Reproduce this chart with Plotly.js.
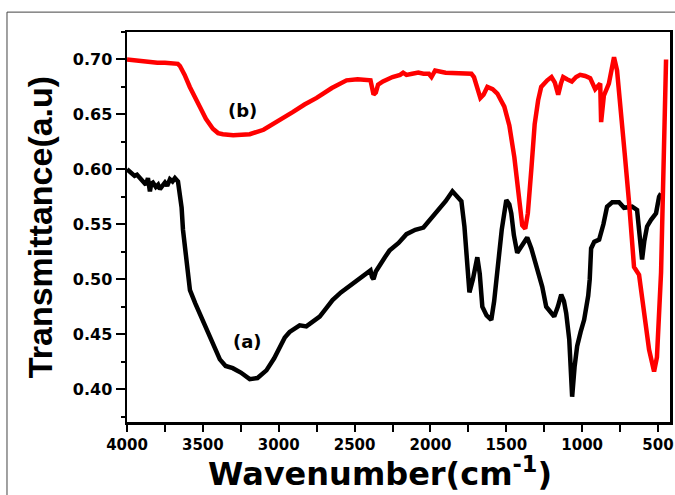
<!DOCTYPE html>
<html>
<head>
<meta charset="utf-8">
<script src="https://cdn.plot.ly/plotly-3.0.1.min.js"></script>
<style>html,body{margin:0;padding:0;background:#fff;}#chart{width:675px;height:495px;}</style>
</head>
<body>
<div id="chart"></div>
<script>
// Sample (a) - black curve
const wavenumberA = [4000, 3975, 3950, 3934, 3900, 3875, 3862, 3849, 3840, 3829, 3810, 3795, 3783, 3765, 3750, 3735, 3717, 3700, 3684, 3664, 3651, 3640, 3631, 3618, 3600, 3585, 3550, 3520, 3490, 3454, 3420, 3388, 3350, 3303, 3250, 3191, 3140, 3081, 3030, 2993, 2960, 2928, 2862, 2818, 2780, 2730, 2690, 2645, 2590, 2533, 2480, 2423, 2395, 2385, 2375, 2360, 2335, 2300, 2270, 2210, 2158, 2100, 2046, 2010, 1980, 1941, 1900, 1855, 1820, 1796, 1776, 1760, 1743, 1720, 1691, 1675, 1658, 1630, 1599, 1580, 1559, 1530, 1500, 1480, 1467, 1450, 1428, 1400, 1362, 1335, 1303, 1263, 1237, 1210, 1184, 1160, 1138, 1120, 1105, 1085, 1066, 1050, 1033, 1010, 987, 960, 950, 941, 920, 888, 860, 836, 802, 757, 724, 671, 638, 625, 612, 605, 590, 572, 546, 513, 493, 480];
const transA = [0.600, 0.597, 0.594, 0.595, 0.590, 0.586, 0.592, 0.580, 0.587, 0.588, 0.584, 0.586, 0.582, 0.586, 0.588, 0.585, 0.591, 0.589, 0.592, 0.589, 0.579, 0.565, 0.545, 0.527, 0.505, 0.490, 0.478, 0.469, 0.459, 0.448, 0.437, 0.427, 0.421, 0.419, 0.415, 0.409, 0.410, 0.417, 0.428, 0.439, 0.447, 0.452, 0.458, 0.457, 0.461, 0.466, 0.473, 0.481, 0.488, 0.494, 0.500, 0.506, 0.508, 0.502, 0.500, 0.507, 0.513, 0.520, 0.526, 0.533, 0.541, 0.545, 0.547, 0.553, 0.558, 0.563, 0.571, 0.580, 0.575, 0.571, 0.548, 0.520, 0.488, 0.500, 0.520, 0.505, 0.475, 0.467, 0.463, 0.480, 0.509, 0.545, 0.572, 0.568, 0.560, 0.540, 0.524, 0.530, 0.538, 0.528, 0.511, 0.493, 0.475, 0.470, 0.466, 0.475, 0.486, 0.480, 0.469, 0.445, 0.393, 0.420, 0.439, 0.452, 0.463, 0.485, 0.500, 0.528, 0.534, 0.536, 0.550, 0.566, 0.570, 0.570, 0.565, 0.566, 0.563, 0.545, 0.518, 0.518, 0.535, 0.548, 0.554, 0.560, 0.575, 0.578];

// Sample (b) - red curve
const wavenumberB = [4000, 3950, 3900, 3850, 3800, 3750, 3700, 3665, 3651, 3620, 3586, 3550, 3520, 3480, 3434, 3400, 3368, 3300, 3191, 3100, 3039, 2960, 2908, 2830, 2750, 2650, 2553, 2480, 2421, 2395, 2375, 2360, 2345, 2313, 2250, 2200, 2180, 2158, 2120, 2080, 2046, 2010, 1993, 1969, 1900, 1820, 1758, 1730, 1713, 1690, 1671, 1650, 1625, 1590, 1559, 1513, 1480, 1447, 1420, 1395, 1375, 1358, 1335, 1313, 1290, 1270, 1230, 1202, 1180, 1158, 1140, 1125, 1100, 1068, 1040, 1013, 980, 947, 914, 895, 881, 875, 868, 857, 824, 790, 770, 750, 720, 691, 658, 625, 600, 559, 526, 507, 480, 467, 454, 447];
const transB = [0.700, 0.699, 0.698, 0.698, 0.697, 0.697, 0.697, 0.696, 0.694, 0.686, 0.675, 0.666, 0.657, 0.646, 0.637, 0.633, 0.632, 0.631, 0.632, 0.636, 0.641, 0.647, 0.652, 0.659, 0.665, 0.674, 0.681, 0.682, 0.682, 0.681, 0.668, 0.670, 0.677, 0.680, 0.684, 0.686, 0.688, 0.686, 0.687, 0.688, 0.687, 0.687, 0.684, 0.690, 0.688, 0.688, 0.688, 0.687, 0.684, 0.672, 0.665, 0.668, 0.675, 0.673, 0.669, 0.657, 0.640, 0.611, 0.578, 0.549, 0.546, 0.560, 0.600, 0.641, 0.663, 0.675, 0.681, 0.684, 0.679, 0.668, 0.678, 0.684, 0.682, 0.680, 0.684, 0.686, 0.685, 0.683, 0.673, 0.676, 0.678, 0.643, 0.652, 0.667, 0.678, 0.702, 0.690, 0.655, 0.615, 0.570, 0.511, 0.504, 0.478, 0.436, 0.416, 0.429, 0.506, 0.597, 0.673, 0.700];

const labelText = ['(a)', '(b)'];
const labelX = [3204, 3237];
const labelY = [0.443, 0.654];

const xTitle = 'Wavenumber(cm<sup>-1</sup>)';
const yTitle = 'Transmittance(a.u)';

const boldFont = 'DejaVu Sans';

const traces = [
  {x: wavenumberA, y: transA, type: 'scatter', mode: 'lines', name: '(a)',
   line: {color: '#000000', width: 4.5, shape: 'linear'}},
  {x: wavenumberB, y: transB, type: 'scatter', mode: 'lines', name: '(b)',
   line: {color: '#ff0000', width: 4.5, shape: 'linear'}}
];

const annotations = labelText.map((t, i) => ({
  x: labelX[i], y: labelY[i], xref: 'x', yref: 'y', text: t, showarrow: false,
  font: {family: boldFont, size: 18, color: '#000', weight: 'bold'}
}));
annotations.push({
  x: 0.466, y: -0.127, xref: 'paper', yref: 'paper', xanchor: 'center', yanchor: 'middle',
  text: xTitle, showarrow: false, borderpad: 0,
  font: {family: boldFont, size: 32, color: '#000', weight: 'bold'}
});

const layout = {
  width: 675, height: 495,
  margin: {l: 127, r: 5, t: 32, b: 73},
  paper_bgcolor: '#ffffff', plot_bgcolor: '#ffffff',
  showlegend: false,
  xaxis: {
    range: [4000, 421], autorange: false,
    tick0: 0, dtick: 500,
    ticks: 'outside', ticklen: 7, tickwidth: 2, tickcolor: '#000',
    minor: {dtick: 250, tick0: 0, ticks: 'outside', ticklen: 7, tickwidth: 2, tickcolor: '#000'},
    showline: true, linecolor: '#000', linewidth: 2.5, mirror: true,
    showgrid: false, zeroline: false,
    tickfont: {family: boldFont, size: 15, color: '#000', weight: 'bold'}
  },
  yaxis: {
    range: [0.37, 0.725], autorange: false,
    tick0: 0.4, dtick: 0.05, tickformat: '.2f',
    ticks: 'outside', ticklen: 9, tickwidth: 2, tickcolor: '#000',
    minor: {dtick: 0.025, tick0: 0.4, ticks: 'outside', ticklen: 4, tickwidth: 2, tickcolor: '#000'},
    showline: true, linecolor: '#000', linewidth: 2.5, mirror: true,
    showgrid: false, zeroline: false,
    tickfont: {family: boldFont, size: 16, color: '#000', weight: 'bold'},
    title: {text: yTitle, font: {family: 'Liberation Sans', size: 34, color: '#000', weight: 'bold'}, standoff: 10}
  },
  annotations: annotations,
  shapes: [
    {type: 'line', xref: 'paper', yref: 'paper', x0: -0.221, x1: 1.1, y0: 1.051, y1: 1.051, line: {color: '#444', width: 1}},
    {type: 'line', xref: 'paper', yref: 'paper', x0: -0.221, x1: -0.221, y0: 1.051, y1: -0.3, line: {color: '#444', width: 1}}
  ]
};

Plotly.newPlot('chart', traces, layout, {displayModeBar: false, staticPlot: true});
</script>
</body>
</html>
